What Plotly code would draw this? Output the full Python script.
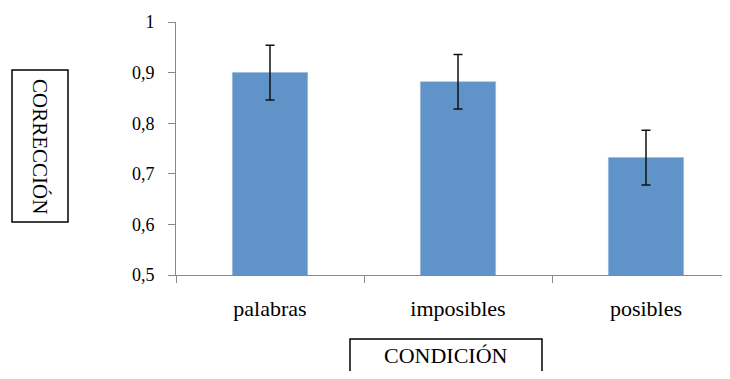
import plotly.graph_objects as go

categories = ["palabras", "imposibles", "posibles"]
values = [0.90, 0.882, 0.732]
errors = [0.054, 0.054, 0.054]
y_ticks = [0.5, 0.6, 0.7, 0.8, 0.9, 1.0]
y_tick_labels = ["0,5", "0,6", "0,7", "0,8", "0,9", "1"]

OFF = 8  # page body margin
W, H = 730 - 2 * OFF, 379 - 2 * OFF
L, R, T, B = 168, 0, 14, 96
pw, ph = W - L - R, H - T - B

def px(x):
    return (x - OFF - L) / pw

def py(y):
    return (H - B - (y - OFF)) / ph

font = "Liberation Serif, Times New Roman, serif"
axis_col = "#898989"

fig = go.Figure(go.Bar(
    x=categories, y=values, width=0.4,
    marker=dict(color="#6094C9", line=dict(color="#8FB3DA", width=0.5)),
    error_y=dict(type="data", array=errors, color="#111111", thickness=1.5, width=4.5),
))

fig.update_layout(
    width=W, height=H,
    margin=dict(l=L, r=R, t=T, b=B, autoexpand=False),
    paper_bgcolor="white", plot_bgcolor="white",
    showlegend=False,
    font=dict(family=font, color="black"),
    xaxis=dict(
        range=[-0.5, -0.5 + pw / 188], showline=True, linecolor=axis_col, linewidth=1,
        ticks="outside", tickson="boundaries", ticklen=7, tickcolor=axis_col,
        tickfont=dict(size=22, family=font), ticklabelstandoff=14,
        showgrid=False, zeroline=False, automargin=False,
    ),
    yaxis=dict(
        range=[0.5, 1.0], tickvals=y_ticks, ticktext=y_tick_labels,
        showline=True, linecolor=axis_col, linewidth=1,
        ticks="outside", ticklen=7, tickcolor=axis_col,
        tickfont=dict(size=18, family=font), ticklabelstandoff=10,
        showgrid=False, zeroline=False, automargin=False,
    ),
    shapes=[
        dict(type="rect", xref="paper", yref="paper",
             x0=px(12), x1=px(68), y0=py(222), y1=py(70),
             line=dict(color="black", width=1.5)),
        dict(type="rect", xref="paper", yref="paper",
             x0=px(350), x1=px(542), y0=py(378), y1=py(339),
             line=dict(color="black", width=1.5)),
    ],
    annotations=[
        dict(text="CORRECCIÓN", xref="paper", yref="paper", x=px(40), y=py(146),
             showarrow=False, textangle=90, font=dict(size=21, family=font),
             xanchor="center", yanchor="middle"),
        dict(text="CONDICIÓN", xref="paper", yref="paper", x=px(446), y=py(355),
             showarrow=False, font=dict(size=22, family=font),
             xanchor="center", yanchor="middle"),
    ],
)

fig.write_html("out.html")
